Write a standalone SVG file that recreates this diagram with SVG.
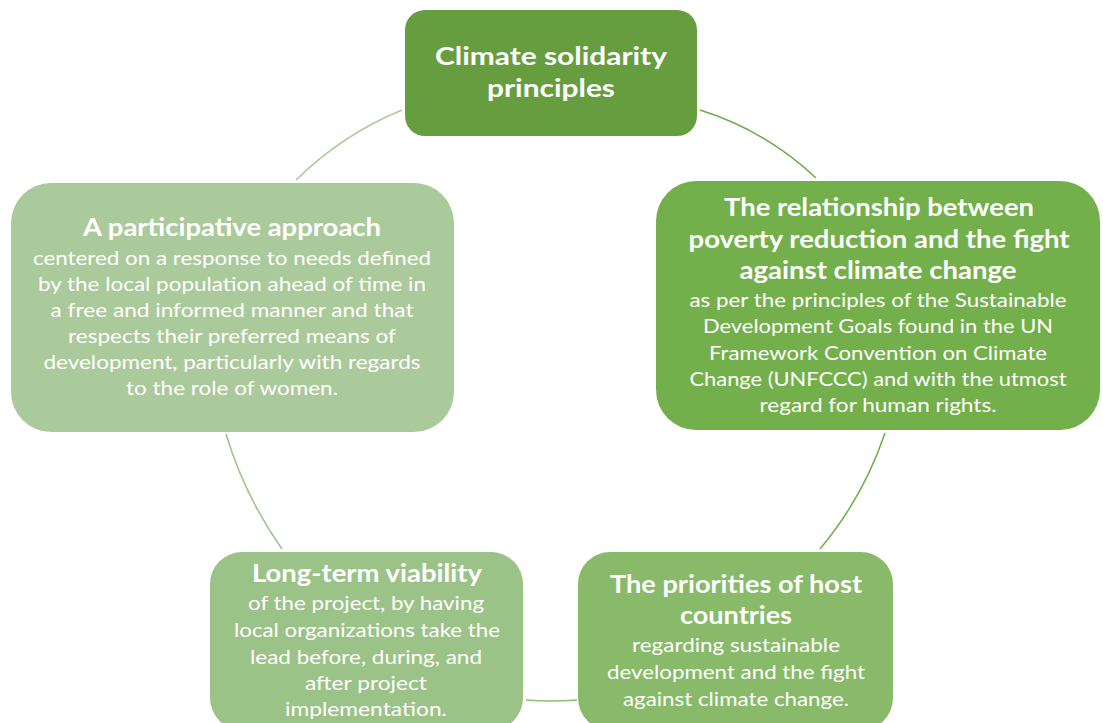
<svg xmlns="http://www.w3.org/2000/svg" width="1103" height="723" viewBox="0 0 1103 723">
<style>
  .t { font-family: Lato, "Open Sans", "Liberation Sans", sans-serif; fill: #ffffff; text-anchor: middle; }
  .h { font-weight: bold; font-size: 25px; }
  .b { font-weight: normal; font-size: 20px; }
  .c { fill: none; stroke-width: 1.6; }
</style>
<rect x="0" y="0" width="1103" height="723" fill="#ffffff"/>
<g id="connectors">
  <path class="c" stroke="#a9cd99" d="M296,180 A330,330 0 0,1 402,110"/>
  <path class="c" stroke="#6fab49" d="M700,110 A300,300 0 0,1 816,178"/>
  <path class="c" stroke="#72b04d" d="M885,433 A360,360 0 0,1 820,549"/>
  <path class="c" stroke="#8dbf72" d="M577,700 A330,330 0 0,1 526,700"/>
  <path class="c" stroke="#9dc78b" d="M282,549 A400,400 0 0,1 226,434"/>
</g>
<g id="node-top">
  <rect x="405" y="10" width="292" height="126" rx="20" fill="#669e3f"/>
  <text class="t h" x="551" y="65" font-size="27" textLength="232" lengthAdjust="spacingAndGlyphs">Climate solidarity</text>
  <text class="t h" x="551" y="97" font-size="27" textLength="128" lengthAdjust="spacingAndGlyphs">principles</text>
</g>
<g id="node-right">
  <rect x="656" y="181" width="444" height="249" rx="40" fill="#73b04c"/>
  <text class="t h" x="879" y="216" textLength="310" lengthAdjust="spacingAndGlyphs">The relationship between</text>
  <text class="t h" x="879" y="248" textLength="381" lengthAdjust="spacingAndGlyphs">poverty reduction and the fight</text>
  <text class="t h" x="878" y="279" textLength="277" lengthAdjust="spacingAndGlyphs">against climate change</text>
  <text class="t b" x="878" y="307" textLength="377" lengthAdjust="spacingAndGlyphs">as per the principles of the Sustainable</text>
  <text class="t b" x="878" y="333" textLength="350" lengthAdjust="spacingAndGlyphs">Development Goals found in the UN</text>
  <text class="t b" x="878" y="360" textLength="338" lengthAdjust="spacingAndGlyphs">Framework Convention on Climate</text>
  <text class="t b" x="878" y="386" textLength="377" lengthAdjust="spacingAndGlyphs">Change (UNFCCC) and with the utmost</text>
  <text class="t b" x="878" y="412" textLength="237" lengthAdjust="spacingAndGlyphs">regard for human rights.</text>
</g>
<g id="node-left">
  <rect x="11" y="183" width="443" height="249" rx="40" fill="#abca9b"/>
  <text class="t h" x="232" y="236" textLength="298" lengthAdjust="spacingAndGlyphs">A participative approach</text>
  <text class="t b" x="232" y="265" textLength="398" lengthAdjust="spacingAndGlyphs">centered on a response to needs defined</text>
  <text class="t b" x="232" y="291" textLength="388" lengthAdjust="spacingAndGlyphs">by the local population ahead of time in</text>
  <text class="t b" x="232" y="317" textLength="363" lengthAdjust="spacingAndGlyphs">a free and informed manner and that</text>
  <text class="t b" x="232" y="343" textLength="328" lengthAdjust="spacingAndGlyphs">respects their preferred means of</text>
  <text class="t b" x="232" y="369" textLength="377" lengthAdjust="spacingAndGlyphs">development, particularly with regards</text>
  <text class="t b" x="232" y="395" textLength="212" lengthAdjust="spacingAndGlyphs">to the role of women.</text>
</g>
<g id="node-bottom-left">
  <rect x="210" y="552" width="313" height="178" rx="32" fill="#9cc387"/>
  <text class="t h" x="367" y="582" textLength="230" lengthAdjust="spacingAndGlyphs">Long-term viability</text>
  <text class="t b" x="366" y="610" textLength="236" lengthAdjust="spacingAndGlyphs">of the project, by having</text>
  <text class="t b" x="367" y="637" textLength="266" lengthAdjust="spacingAndGlyphs">local organizations take the</text>
  <text class="t b" x="366" y="664" textLength="232" lengthAdjust="spacingAndGlyphs">lead before, during, and</text>
  <text class="t b" x="366" y="690" textLength="122" lengthAdjust="spacingAndGlyphs">after project</text>
  <text class="t b" x="366" y="716" textLength="162" lengthAdjust="spacingAndGlyphs">implementation.</text>
</g>
<g id="node-bottom-right">
  <rect x="578" y="552" width="315" height="178" rx="32" fill="#88ba6a"/>
  <text class="t h" x="736" y="593" textLength="252" lengthAdjust="spacingAndGlyphs">The priorities of host</text>
  <text class="t h" x="736" y="624" textLength="112" lengthAdjust="spacingAndGlyphs">countries</text>
  <text class="t b" x="736" y="652" textLength="208" lengthAdjust="spacingAndGlyphs">regarding sustainable</text>
  <text class="t b" x="736" y="679" textLength="258" lengthAdjust="spacingAndGlyphs">development and the fight</text>
  <text class="t b" x="736" y="706" textLength="226" lengthAdjust="spacingAndGlyphs">against climate change.</text>
</g>
</svg>
